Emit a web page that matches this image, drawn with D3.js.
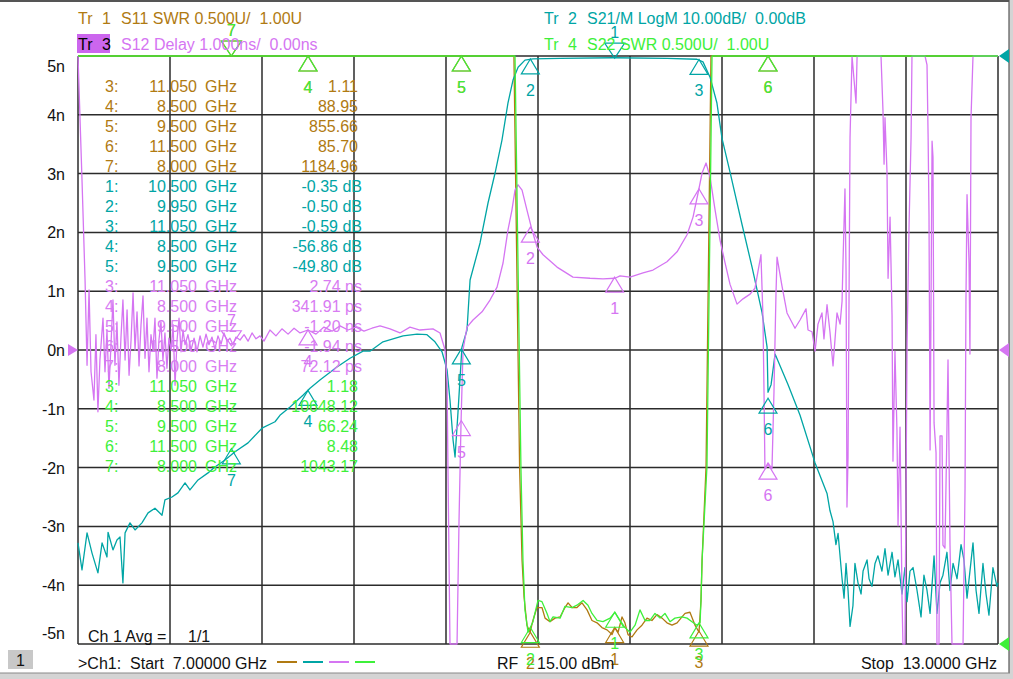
<!DOCTYPE html>
<html><head><meta charset="utf-8">
<script src="https://cdn.jsdelivr.net/npm/d3@7"></script>
<style>
body{margin:0;background:#fff;overflow:hidden;}
svg text{font-family:"Liberation Sans",Arial,Helvetica,sans-serif;font-size:16px;white-space:pre;}
</style></head><body>
<svg id="c" width="1013" height="679"></svg>
<script>
// ---------------- data ----------------
const startGHz = 7, stopGHz = 13;
const yTickLabels = ["5n","4n","3n","2n","1n","0n","-1n","-2n","-3n","-4n","-5n"];
const yTickValues = [5,4,3,2,1,0,-1,-2,-3,-4,-5];

const markerFreqs = [10.5, 9.95, 11.05, 8.5, 9.5, 11.5, 8.0];
const s11MarkerVals = [1.14, 1.10, 1.11, 88.95, 855.66, 85.70, 1184.96];
const s21MarkerVals = [-0.35, -0.50, -0.59, -56.86, -49.80, -58.2, -66.8];
const s12MarkerVals = [1.24, 2.09, 2.74, 0.342, -1.20, -1.94, 0.072];
const s22MarkerVals = [1.27, 1.14, 1.18, 10648.12, 66.24, 8.48, 1043.17];

// S11 SWR (brown)
const s11Data = [[7.0,900],[8.0,1184.96],[8.5,88.95],[9.5,855.66],[9.843,6.0],[9.880,2.5],[9.896,1.71],[9.909,1.4],[9.928,1.16],
 [9.948,1.10],[9.967,1.20],[9.993,1.31],[10.026,1.31],[10.046,1.22],[10.078,1.19],[10.111,1.22],[10.144,1.23],[10.176,1.31],
 [10.196,1.35],[10.222,1.31],[10.254,1.31],[10.287,1.35],[10.320,1.29],[10.352,1.20],[10.385,1.18],[10.417,1.14],[10.450,1.12],
 [10.483,1.08],[10.502,1.14],[10.522,1.10],[10.548,1.23],[10.567,1.18],[10.587,1.08],[10.613,1.06],[10.646,1.12],[10.678,1.16],
 [10.711,1.22],[10.743,1.20],[10.776,1.25],[10.809,1.22],[10.841,1.18],[10.874,1.16],[10.907,1.18],[10.939,1.23],[10.959,1.26],
 [10.991,1.27],[11.024,1.16],[11.050,1.10],[11.063,1.37],[11.070,1.71],[11.096,2.51],[11.128,6.0],[11.5,85.70],[13.0,500]];

// S22 SWR (green)
const s22Data = [[7.0,900],[8.0,1043.17],[8.5,10648.12],[9.5,66.24],[9.850,6.0],[9.889,2.48],[9.902,1.71],[9.915,1.29],[9.935,1.10],
 [9.950,1.14],[9.967,1.19],[10.000,1.37],[10.026,1.36],[10.059,1.26],[10.078,1.19],[10.098,1.23],[10.144,1.22],[10.176,1.32],
 [10.222,1.31],[10.254,1.33],[10.294,1.37],[10.326,1.33],[10.352,1.26],[10.385,1.20],[10.424,1.19],[10.470,1.22],[10.502,1.27],
 [10.535,1.20],[10.567,1.14],[10.600,1.10],[10.633,1.16],[10.665,1.29],[10.698,1.20],[10.730,1.20],[10.763,1.26],[10.796,1.22],
 [10.828,1.26],[10.861,1.19],[10.893,1.22],[10.939,1.23],[10.972,1.22],[11.004,1.19],[11.037,1.16],[11.057,1.18],[11.063,1.37],
 [11.070,1.71],[11.102,2.51],[11.135,6.0],[11.5,8.48],[13.0,500]];

// S21 LogM dB (teal)
const s21Data = [[7.000,-82.8],[7.026,-87.4],[7.059,-81.1],[7.091,-84.5],[7.130,-87.9],[7.157,-82.8],[7.189,-85.2],[7.196,-81.0],
 [7.228,-84.0],[7.254,-82.3],[7.274,-81.8],[7.293,-89.6],[7.307,-81.1],[7.339,-79.4],[7.372,-80.6],[7.417,-79.4],[7.457,-77.7],
 [7.502,-76.9],[7.548,-78.1],[7.567,-75.5],[7.613,-75.0],[7.652,-74.3],[7.698,-72.6],[7.730,-73.8],[7.783,-72.1],[7.848,-70.9],
 [7.893,-69.9],[7.959,-68.7],[8.024,-67.3],[8.109,-65.8],[8.200,-63.3],[8.285,-62.2],[8.317,-61.1],[8.383,-59.7],[8.467,-57.7],
 [8.513,-56.5],[8.578,-55.1],[8.689,-52.9],[8.774,-51.4],[8.859,-50.2],[8.904,-50.2],[8.989,-48.6],[9.120,-47.6],[9.211,-47.3],
 [9.276,-47.4],[9.328,-48.6],[9.374,-50.3],[9.407,-53.4],[9.426,-58.5],[9.446,-65.3],[9.459,-68.2],[9.478,-60.7],[9.504,-49.5],
 [9.537,-46.6],[9.557,-38.1],[9.622,-31.8],[9.674,-25.0],[9.720,-19.9],[9.765,-14.3],[9.804,-8.0],[9.837,-4.1],[9.870,-1.9],
 [9.915,-0.7],[9.967,-0.5],[10.144,-0.4],[10.489,-0.3],[10.841,-0.4],[11.037,-0.55],[11.076,-1.0],[11.122,-3.6],[11.167,-8.0],
 [11.200,-14.0],[11.252,-19.7],[11.331,-28.7],[11.396,-35.9],[11.461,-43.6],[11.494,-49.5],[11.500,-57.2],[11.520,-55.9],
 [11.546,-50.7],[11.631,-55.9],[11.709,-61.1],[11.807,-69.2],[11.885,-74.4],
 [11.904,-77.3],[11.924,-79.2],[11.943,-83.1],[11.957,-81.2],[11.983,-88.9],[11.996,-92.2],[12.009,-86.3],[12.022,-90.9],
 [12.035,-97.0],[12.054,-93.5],[12.067,-86.3],[12.087,-89.6],[12.107,-91.5],[12.120,-87.6],[12.146,-85.7],[12.159,-88.9],
 [12.178,-90.2],[12.198,-86.3],[12.217,-85.0],[12.243,-87.6],[12.263,-83.8],[12.283,-88.3],[12.309,-84.4],[12.328,-88.6],
 [12.348,-85.7],[12.374,-91.5],[12.393,-87.0],[12.407,-92.8],[12.426,-87.6],[12.446,-87.0],[12.472,-90.9],[12.498,-95.4],
 [12.517,-88.3],[12.537,-90.9],[12.557,-94.8],[12.583,-85.0],[12.602,-94.8],[12.622,-89.6],[12.641,-88.3],[12.667,-84.4],
 [12.687,-90.9],[12.707,-86.3],[12.733,-88.9],[12.759,-83.1],[12.778,-85.7],[12.798,-92.2],[12.837,-82.8],[12.857,-90.9],
 [12.876,-94.8],[12.902,-86.3],[12.922,-91.5],[12.941,-95.1],[12.967,-87.0],[12.993,-90.2],[13.000,-89.6]];

// S12 group delay ns (purple)
const s12Data = [[7.000,5.0],[7.026,2.90],[7.046,1.19],[7.059,-0.26],[7.072,1.02],[7.085,-0.37],[7.104,-0.85],[7.117,0.26],
 [7.130,-1.05],[7.143,-0.17],[7.163,0.54],[7.176,-0.37],[7.189,0.34],[7.202,-0.65],[7.215,0.09],[7.228,0.85],[7.241,-0.26],
 [7.254,0.48],[7.267,-0.60],[7.280,0.20],[7.293,0.85],[7.307,-0.17],[7.320,0.68],[7.333,-0.43],[7.346,0.17],[7.359,0.97],
 [7.372,0.00],[7.385,0.65],[7.398,-0.27],[7.411,0.43],[7.424,0.92],[7.437,-0.14],[7.450,0.54],[7.463,-0.37],[7.476,0.26],
 [7.489,0.00],[7.502,0.54],[7.515,-0.48],[7.528,0.17],[7.541,0.48],[7.554,-0.17],[7.567,0.29],[7.580,-0.31],[7.593,0.20],
 [7.607,0.00],[7.620,0.43],[7.633,-0.60],[7.646,0.17],[7.659,0.54],[7.672,-0.03],[7.685,0.34],[7.698,0.09],[7.717,0.26],
 [7.737,0.00],[7.757,0.20],[7.776,-0.03],[7.796,0.24],[7.815,0.05],[7.835,0.27],[7.854,0.09],[7.874,0.22],[7.893,0.02],
 [7.913,0.24],[7.933,0.10],[7.952,0.29],[7.972,0.15],[7.991,0.20],[8.011,0.09],[8.030,0.22],[8.057,0.17],[8.083,0.26],
 [8.109,0.15],[8.135,0.29],[8.161,0.19],[8.187,0.24],[8.213,0.15],[8.252,0.34],[8.291,0.24],[8.330,0.36],[8.370,0.27],
 [8.409,0.37],[8.448,0.29],[8.500,0.34],[8.552,0.27],[8.604,0.39],[8.657,0.32],[8.709,0.41],[8.761,0.34],[8.813,0.39],
 [8.865,0.32],[8.917,0.37],[8.970,0.41],[9.035,0.36],[9.100,0.29],[9.165,0.39],[9.230,0.34],[9.315,0.36],[9.361,0.29],
 [9.394,0.00],[9.407,-0.56],[9.413,-2.04],[9.426,-5],[9.472,-5],[9.485,-2.89],[9.498,-1.24],[9.511,0.00],[9.537,0.39],
 [9.576,0.51],[9.635,0.65],[9.687,0.85],[9.733,1.07],[9.772,1.48],[9.804,2.04],[9.830,2.38],[9.850,2.72],[9.870,2.81],
 [9.896,2.72],[9.928,2.38],[9.961,2.04],[9.994,1.75],[10.033,1.62],[10.124,1.41],[10.228,1.24],[10.339,1.22],[10.424,1.21],
 [10.502,1.22],[10.535,1.26],[10.600,1.24],[10.685,1.31],[10.750,1.36],[10.841,1.50],[10.907,1.67],[10.972,1.96],[11.011,2.26],
 [11.044,2.67],[11.070,3.01],[11.096,3.18],[11.122,2.94],[11.155,2.38],[11.187,1.87],[11.220,1.48],[11.252,1.12],[11.298,0.78],
 [11.337,0.87],[11.383,0.95],[11.415,1.05],[11.435,1.34],[11.454,1.62],[11.467,0.58],[11.474,-0.71],[11.480,-2.02],[11.500,-1.92],
 [11.526,-2.02],[11.539,-0.71],[11.552,0.95],[11.559,1.58],[11.591,1.09],[11.624,0.63],[11.676,0.37],[11.709,0.51],[11.748,0.70],
 [11.761,0.34],[11.787,0.31],[11.807,-0.02],[11.826,0.44],[11.852,0.63],[11.865,0.19],[11.885,0.77],[11.904,0.31],[11.924,-0.27],
 [11.950,0.63],[11.970,0.44],[11.983,0.83],[11.989,1.48],[12.002,2.74],[12.009,1.34],[12.015,-2.67],[12.022,-1.82],[12.035,3.61],
 [12.048,5],[12.074,4.20],[12.081,5],[12.237,5],[12.250,4.06],[12.257,3.16],[12.263,3.95],[12.276,3.03],[12.283,1.22],
 [12.296,2.26],[12.309,0.58],[12.315,-1.89],[12.328,-0.02],[12.341,-1.36],[12.348,-2.99],[12.361,-1.31],[12.374,-4.22],
 [12.380,-5],[12.393,-5],[12.407,0.12],[12.420,2.13],[12.433,3.61],[12.439,5],[12.524,5],[12.537,4.85],[12.544,3.67],
 [12.550,2.31],[12.557,-1.70],[12.570,3.55],[12.576,3.28],[12.583,-1.24],[12.596,-1.75],[12.602,-5],[12.615,-5],[12.622,-1.46],
 [12.635,-1.46],[12.641,-3.32],[12.654,-3.37],[12.667,-1.36],[12.674,-0.17],[12.687,-3.32],[12.700,-5],[12.772,-5],[12.785,-2.35],
 [12.791,0.83],[12.798,2.64],[12.811,1.48],[12.817,-0.07],[12.824,3.95],[12.837,5],[13.000,5]];

const s11Table = [["3:","11.050","1.11"],["4:","8.500","88.95"],["5:","9.500","855.66"],["6:","11.500","85.70"],["7:","8.000","1184.96"]];
const s21Table = [["1:","10.500","-0.35 dB"],["2:","9.950","-0.50 dB"],["3:","11.050","-0.59 dB"],["4:","8.500","-56.86 dB"],["5:","9.500","-49.80 dB"]];
const s12Table = [["3:","11.050","2.74 ns"],["4:","8.500","341.91 ps"],["5:","9.500","-1.20 ns"],["6:","11.500","-1.94 ns"],["7:","8.000","72.12 ps"]];
const s22Table = [["3:","11.050","1.18"],["4:","8.500","10648.12"],["5:","9.500","66.24"],["6:","11.500","8.48"],["7:","8.000","1043.17"]];

// ---------------- drawing ----------------
const C = {brown:"#b07a12", teal:"#00a5a5", purple:"#d575f2", green:"#3ef03a"};
const L = 78, R = 998, T = 56, B = 644;
const svg = d3.select("#c");

const x = d3.scaleLinear().domain([startGHz, stopGHz]).range([L, R]);
const yDelay = d3.scaleLinear().domain([-5, 5]).range([B, T]).clamp(true);
const yDb = d3.scaleLinear().domain([-100, 0]).range([B, T]).clamp(true);
const ySwr = d3.scaleLinear().domain([1, 6]).range([B, T]).clamp(true);

// window chrome
svg.append("rect").attr("x",0).attr("y",0).attr("width",1013).attr("height",679).attr("fill","#fff");
svg.append("rect").attr("x",0).attr("y",0).attr("width",1013).attr("height",2).attr("fill","#555");
svg.append("rect").attr("x",1009).attr("y",0).attr("width",4).attr("height",679).attr("fill","#d4d4d4");
svg.append("line").attr("x1",1009).attr("x2",1009).attr("y1",0).attr("y2",673).attr("stroke","#555").attr("stroke-width",1.2);
svg.append("rect").attr("x",0).attr("y",673).attr("width",1013).attr("height",6).attr("fill","#d4d4d4");
svg.append("line").attr("x1",0).attr("x2",1010).attr("y1",673).attr("y2",673).attr("stroke","#888").attr("stroke-width",1);

// grid
const gGrid = svg.append("g").attr("stroke","#2b2b2b").attr("stroke-width",1.5);
const xTicks = d3.range(0, 11).map(i => startGHz + i * (stopGHz - startGHz) / 10);
gGrid.selectAll("line.v").data(xTicks).join("line").attr("class","v")
  .attr("x1", d => x(d)).attr("x2", d => x(d)).attr("y1", T).attr("y2", B);
gGrid.selectAll("line.h").data(yTickValues).join("line").attr("class","h")
  .attr("x1", L).attr("x2", R).attr("y1", d => yDelay(d)).attr("y2", d => yDelay(d));

// y labels
svg.append("g").selectAll("text").data(yTickValues).join("text")
  .attr("x", 65).attr("text-anchor","end").attr("fill","#111")
  .attr("y", (d,i) => i === 0 ? yDelay(d) + 16 : (i === 10 ? yDelay(d) - 5 : yDelay(d) + 6))
  .text((d,i) => yTickLabels[i]);

// traces
function trace(data, ys, color){
  const line = d3.line().x(d => x(d[0])).y(d => ys(d[1]));
  svg.append("path").datum(data).attr("d", line).attr("fill","none")
    .attr("stroke", color).attr("stroke-width", 1.3).attr("stroke-linejoin","round");
}
trace(s11Data, ySwr, C.brown);
trace(s21Data, yDb, C.teal);
trace(s12Data, yDelay, C.purple);
trace(s22Data, ySwr, C.green);

// markers
function markers(vals, ys, color, active){
  const g = svg.append("g");
  markerFreqs.forEach((f, i) => {
    const cx = x(f), cy = ys(vals[i]);
    if (i === active){
      g.append("path").attr("d", `M${cx},${cy}L${cx-10},${cy-15}L${cx+10},${cy-15}Z`)
        .attr("fill","none").attr("stroke",color).attr("stroke-width",1.2);
      g.append("text").attr("x",cx).attr("y",cy-20).attr("text-anchor","middle").attr("fill",color).text(i+1);
    } else {
      g.append("path").attr("d", `M${cx},${cy}L${cx-9},${cy+15}L${cx+9},${cy+15}Z`)
        .attr("fill","none").attr("stroke",color).attr("stroke-width",1.2);
      g.append("text").attr("x",cx).attr("y",cy+37).attr("text-anchor","middle").attr("fill",color).text(i+1);
    }
  });
}
markers(s11MarkerVals, ySwr, C.brown, 6);
markers(s21MarkerVals, yDb, C.teal, 0);
markers(s12MarkerVals, yDelay, C.purple, 6);
markers(s22MarkerVals, ySwr, C.green, 6);

// reference arrows
function arrowRight(yv, color){ svg.append("path").attr("d",`M68,${yv-6}L78,${yv}L68,${yv+6}Z`).attr("fill",color); }
function arrowLeft(yv, color){ svg.append("path").attr("d",`M1009,${yv-7}L999,${yv}L1009,${yv+7}Z`).attr("fill",color); }
arrowRight(yDelay(0), C.purple);
arrowLeft(yDb(0), C.teal);
arrowLeft(yDelay(0), C.purple);
arrowLeft(ySwr(1), C.green);

// marker table
const tables = [[s11Table, C.brown],[s21Table, C.teal],[s12Table, "#d87cf2"],[s22Table, C.green]];
const gT = svg.append("g");
let row = 0;
tables.forEach(([tb, col]) => {
  tb.forEach(r => {
    const yy = 92 + row * 20;
    gT.append("text").attr("x",105).attr("y",yy).attr("fill",col).text(r[0]);
    gT.append("text").attr("x",197).attr("y",yy).attr("text-anchor","end").attr("fill",col).text(r[1]);
    gT.append("text").attr("x",205).attr("y",yy).attr("fill",col).text("GHz");
    const hasUnit = /[a-z]/.test(r[2]);
    gT.append("text").attr("x", hasUnit ? 362 : 358).attr("y",yy).attr("text-anchor","end").attr("fill",col).text(r[2]);
    row++;
  });
});

// header
function hdr(xTr, yb, num, desc, color){
  svg.append("text").attr("x",xTr).attr("y",yb).attr("fill",color).text("Tr");
  svg.append("text").attr("x",xTr+24).attr("y",yb).attr("fill",color).text(num);
  svg.append("text").attr("x",xTr+43).attr("y",yb).attr("fill",color).text(desc);
}
svg.append("rect").attr("x",77).attr("y",34).attr("width",33).attr("height",19).attr("fill","#cc66ee");
hdr(78, 24, "1", "S11 SWR 0.500U/  1.00U", C.brown);
svg.append("text").attr("x",78).attr("y",50).attr("fill","#000").text("Tr");
svg.append("text").attr("x",102).attr("y",50).attr("fill","#000").text("3");
svg.append("text").attr("x",121).attr("y",50).attr("fill",C.purple).text("S12 Delay 1.000ns/  0.00ns");
hdr(544, 24, "2", "S21/M LogM 10.00dB/  0.00dB", C.teal);
hdr(544, 50, "4", "S22 SWR 0.500U/  1.00U", C.green);

// bottom
svg.append("text").attr("x",88).attr("y",642).attr("fill","#111").text("Ch 1 Avg =");
svg.append("text").attr("x",188).attr("y",642).attr("fill","#111").text("1/1");
svg.append("rect").attr("x",8).attr("y",650).attr("width",25).attr("height",19).attr("fill","#c8c8c8");
svg.append("text").attr("x",20.5).attr("y",666).attr("text-anchor","middle").attr("fill","#111").text("1");
svg.append("text").attr("x",78).attr("y",669).attr("fill","#111").text(">Ch1:  Start  7.00000 GHz");
[C.brown, C.teal, C.purple, C.green].forEach((c,i) => {
  svg.append("line").attr("x1",277+i*26).attr("x2",297+i*26).attr("y1",662).attr("y2",662).attr("stroke",c).attr("stroke-width",2);
});
svg.append("text").attr("x",497).attr("y",669).attr("fill","#111").text("RF");
svg.append("text").attr("x",537).attr("y",669).attr("fill","#111").text("15.00 dBm");
svg.append("text").attr("x",997).attr("y",669).attr("text-anchor","end").attr("fill","#111").text("Stop  13.0000 GHz");
</script>
</body></html>
